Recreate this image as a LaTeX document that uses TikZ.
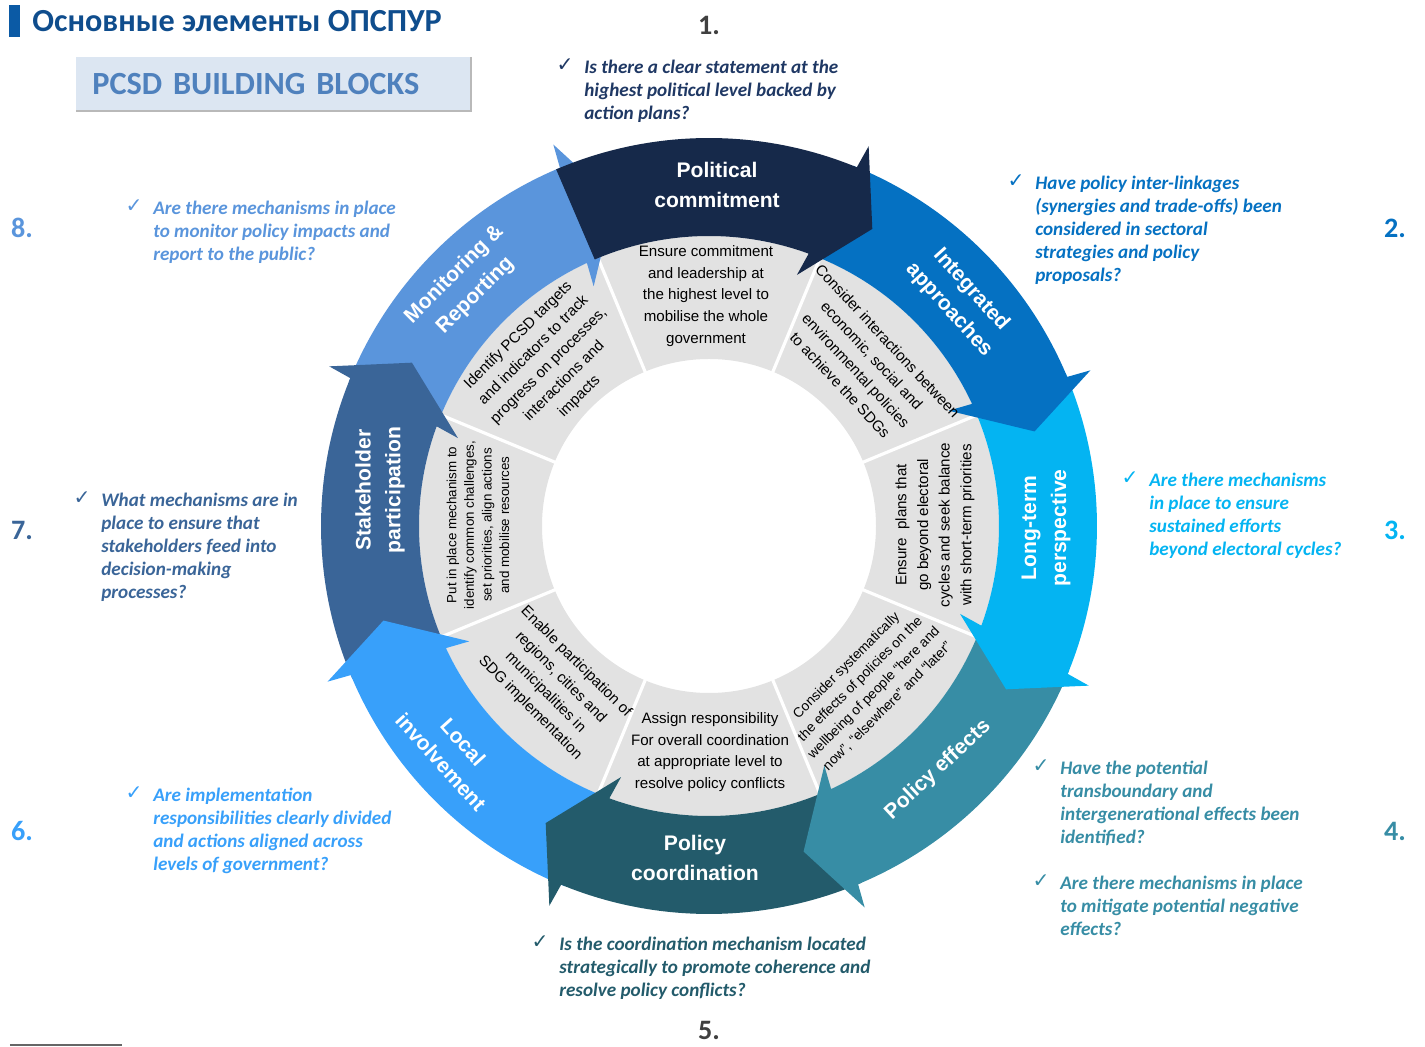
\documentclass[tikz,border=0pt]{standalone}
\usepackage{fontspec}
\setmainfont{Carlito}
\newfontfamily\arialfont{Liberation Sans}
\newfontfamily\symfont{DejaVu Sans}
\usepackage{tikz}
\usetikzlibrary{positioning,calc}
\definecolor{polcom}{HTML}{16294A}
\definecolor{intapp}{HTML}{0571C2}
\definecolor{longterm}{HTML}{04B4F2}
\definecolor{poleff}{HTML}{378DA5}
\definecolor{polcoord}{HTML}{235B6B}
\definecolor{localinv}{HTML}{38A0FA}
\definecolor{stakeh}{HTML}{3A6598}
\definecolor{monrep}{HTML}{5A95DC}
\definecolor{segray}{HTML}{E2E2E2}
\definecolor{titleblue}{HTML}{0F4D8D}
\definecolor{titlebar}{HTML}{0B5AA5}
\definecolor{boxblue}{HTML}{DCE6F2}
\definecolor{boxtext}{HTML}{4F81BD}
\definecolor{qnavy}{HTML}{1F3864}
\definecolor{numgray}{HTML}{404040}

\begin{document}
\begin{tikzpicture}[
  arrowlbl/.style={text=white, font=\arialfont\bfseries\fontsize{12}{17}\selectfont, align=center, inner sep=0pt},
  segtxt/.style={font=\arialfont\fontsize{8.6}{12.3}\selectfont, align=center, inner sep=0pt},
  qtxt/.style={font=\bfseries\itshape\fontsize{10.9}{13}\selectfont, align=left, anchor=north west, inner sep=0pt},
  chk/.style={font=\symfont\fontsize{11.5}{13}\selectfont, anchor=north east, inner sep=0pt},
  numlbl/.style={font=\bfseries\fontsize{16}{18}\selectfont, inner sep=0pt}]
  \useasboundingbox (-14.18,-10.42) rectangle (14.32,10.52);

  % heading
  \fill[titlebar] (-14.0,10.42) rectangle (-13.78,9.78);
  \node[anchor=west, text=titleblue, font=\bfseries\fontsize{18.3}{22}\selectfont, inner sep=0pt] (title) at (-13.54,10.1) {Основные элементы ОПСПУР};
  \node[fill=boxblue, anchor=north west, minimum height=1.06cm, text width=7.24cm, inner xsep=0.32cm, inner ysep=0pt,
        text=boxtext, font=\bfseries\fontsize{18.4}{22}\selectfont] (pcsd) at (-12.66,9.38) {PCSD BUILDING BLOCKS};
  \draw[gray!55, line width=1pt] (pcsd.north east) -- (pcsd.south east) -- (pcsd.south west);

  % grey ring with white gaps
  \fill[segray, even odd rule] (0,0) circle (5.8) (0,0) circle (3.34);
  \foreach \a in {22.5,67.5,...,337.5}
    \draw[white, line width=1.8pt] (\a:3.3) -- (\a:5.9);

  % curved arrows, tip angle / colour
  \foreach \t/\c in {106.2/monrep, 151.2/stakeh, 196.2/localinv, 241.2/polcoord,
                     286.2/poleff, 331.2/longterm, 376.2/intapp, 421.2/polcom}
    \fill[\c] ({\t+52}:7.76) arc[start angle=\t+52, end angle=\t+6.4, radius=7.76]
      -- ({\t+6}:8.24) -- (\t:6.78) -- ({\t+9.5}:5.32) -- ({\t+8.7}:5.8)
      arc[start angle=\t+8.7, end angle=\t+52, radius=5.8] -- cycle;

  % arrow labels
  \node[arrowlbl] (lbl1) at (0.16,6.82) {Political\\commitment};
  \node[arrowlbl, rotate=-48] (lbl2) at (5.02,4.52) {Integrated\\approaches};
  \node[arrowlbl, rotate=90] (lbl3) at (6.74,-0.04) {Long-term\\perspective};
  \node[arrowlbl, rotate=43] (lbl4) at (4.58,-4.88) {Policy effects};
  \node[arrowlbl] (lbl5) at (-0.28,-6.64) {Policy\\coordination};
  \node[arrowlbl, rotate=-48] (lbl6) at (-5.14,-4.52) {Local\\involvement};
  \node[arrowlbl, rotate=90] (lbl7) at (-6.58,0.72) {Stakeholder\\participation};
  \node[arrowlbl, rotate=45] (lbl8) at (-4.88,4.82) {Monitoring \&\\Reporting};

  % segment texts
  \node[segtxt] (txt1) at (-0.06,4.6) {Ensure commitment\\and leadership at\\the highest level to\\mobilise the whole\\government};
  \node[segtxt, rotate=-47] (txt2) at (3.1,3.26) {Consider interactions between\\economic, social and\\environmental policies\\to achieve the SDGs};
  \node[segtxt, rotate=90] (txt3) at (4.52,0.02) {Ensure \ plans that\\go beyond electoral\\cycles and seek balance\\with short-term priorities};
  \node[segtxt, font=\arialfont\fontsize{7.8}{11}\selectfont, rotate=45] (txt4) at (3.16,-3.2) {Consider systematically\\the effects of policies on the\\wellbeing of people “here and\\now”, “elsewhere” and “later”};
  \node[segtxt] (txt5) at (0.02,-4.52) {Assign responsibility\\For overall coordination\\at appropriate level to\\resolve policy conflicts};
  \node[segtxt, rotate=-45] (txt6) at (-3.12,-3.18) {Enable participation of\\regions, cities and\\municipalities in\\SDG implementation};
  \node[segtxt, font=\arialfont\fontsize{7.6}{10}\selectfont, rotate=90] (txt7) at (-4.62,0.02) {Put in place mechanism to\\identify common challenges,\\set priorities, align actions\\and mobilise resources};
  \node[segtxt, rotate=45] (txt8) at (-3.2,3.2) {Identify PCSD targets\\and indicators to track\\progress on processes,\\interactions and\\impacts};

  % questions
  \node[qtxt, text=qnavy] (q1) at (-2.5,9.32) {Is there a clear statement at the\\highest political level backed by\\action plans?};
  \node[qtxt, text=intapp] (q2) at (6.52,7.0) {Have policy inter-linkages\\(synergies and trade-offs) been\\considered in sectoral\\strategies and policy\\proposals?};
  \node[qtxt, text=longterm] (q3) at (8.8,1.06) {Are there mechanisms\\in place to ensure\\sustained efforts\\beyond electoral cycles?};
  \node[qtxt, text=poleff] (q4) at (7.02,-4.7) {Have the potential\\transboundary and\\intergenerational effects been\\identified?};
  \node[qtxt, text=poleff] (q4b) at (7.02,-7.0) {Are there mechanisms in place\\to mitigate potential negative\\effects?};
  \node[qtxt, text=polcoord] (q5) at (-3.0,-8.22) {Is the coordination mechanism located\\strategically to promote coherence and\\resolve policy conflicts?};
  \node[qtxt, text=localinv] (q6) at (-11.12,-5.24) {Are implementation\\responsibilities clearly divided\\and actions aligned across\\levels of government?};
  \node[qtxt, text=stakeh] (q7) at (-12.16,0.66) {What mechanisms are in\\place to ensure that\\stakeholders feed into\\decision-making\\processes?};
  \node[qtxt, text=monrep] (q8) at (-11.12,6.5) {Are there mechanisms in place\\to monitor policy impacts and\\report to the public?};
  \foreach \q/\c in {q1/qnavy, q2/intapp, q3/longterm, q4/poleff, q4b/poleff, q5/polcoord, q6/localinv, q7/stakeh, q8/monrep}
    \node[chk, text=\c] (\q c) at ([xshift=-0.2cm, yshift=0.04cm]\q.north west) {✓};

  % numbers
  \node[numlbl, text=numgray] (n1) at (0,10.02) {1.};
  \node[numlbl, text=intapp] (n2) at (13.72,5.96) {2.};
  \node[numlbl, text=longterm] (n3) at (13.72,-0.08) {3.};
  \node[numlbl, text=poleff] (n4) at (13.72,-6.1) {4.};
  \node[numlbl, text=numgray] (n5) at (0,-10.08) {5.};
  \node[numlbl, text=localinv] (n6) at (-13.74,-6.1) {6.};
  \node[numlbl, text=stakeh] (n7) at (-13.74,-0.08) {7.};
  \node[numlbl, text=monrep] (n8) at (-13.74,5.96) {8.};

  \draw[gray!80!black, line width=1.2pt] (-13.98,-10.38) -- (-11.74,-10.38);
\end{tikzpicture}
\end{document}
